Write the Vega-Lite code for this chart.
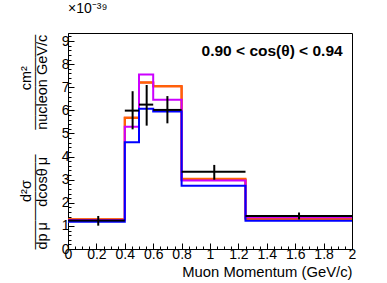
{
  "$schema": "https://vega.github.io/schema/vega-lite/v6.json",
  "width": 284,
  "height": 216,
  "autosize": {"type": "none"},
  "padding": {"left": 68, "top": 33, "right": 35, "bottom": 34},
  "background": "white",
  "config": {
    "view": {"stroke": "black", "strokeWidth": 1},
    "font": "Liberation Sans",
    "axis": {"grid": false, "domainColor": "black", "tickColor": "black", "labelColor": "black", "titleColor": "black", "labelFont": "Liberation Sans", "labelFontSize": 14, "labelOverlap": false, "labelFlush": false, "tickWidth": 1, "domainWidth": 1}
  },
  "title": {"text": "×10⁻³⁹", "anchor": "start", "orient": "top", "frame": "group", "offset": 2, "baseline": "alphabetic", "fontSize": 14, "fontWeight": "normal", "font": "Liberation Sans", "color": "black"},
  "resolve": {"axis": {"x": "independent", "y": "independent"}},
  "datasets": {
    "models": [
      {"series": "Model 1", "lo": 0, "hi": 0.4, "v": 1.28},
      {"series": "Model 1", "lo": 0.4, "hi": 0.5, "v": 5.68},
      {"series": "Model 1", "lo": 0.5, "hi": 0.6, "v": 7.21},
      {"series": "Model 1", "lo": 0.6, "hi": 0.8, "v": 7.04},
      {"series": "Model 1", "lo": 0.8, "hi": 1.25, "v": 3.0},
      {"series": "Model 1", "lo": 1.25, "hi": 2.0, "v": 1.33},
      {"series": "Model 2", "lo": 0, "hi": 0.4, "v": 1.29},
      {"series": "Model 2", "lo": 0.4, "hi": 0.5, "v": 5.68},
      {"series": "Model 2", "lo": 0.5, "hi": 0.6, "v": 7.21},
      {"series": "Model 2", "lo": 0.6, "hi": 0.8, "v": 7.04},
      {"series": "Model 2", "lo": 0.8, "hi": 1.25, "v": 3.04},
      {"series": "Model 2", "lo": 1.25, "hi": 2.0, "v": 1.29},
      {"series": "Model 3", "lo": 0, "hi": 0.4, "v": 1.26},
      {"series": "Model 3", "lo": 0.4, "hi": 0.5, "v": 5.29},
      {"series": "Model 3", "lo": 0.5, "hi": 0.6, "v": 7.55},
      {"series": "Model 3", "lo": 0.6, "hi": 0.8, "v": 6.46},
      {"series": "Model 3", "lo": 0.8, "hi": 1.25, "v": 2.96},
      {"series": "Model 3", "lo": 1.25, "hi": 2.0, "v": 1.37},
      {"series": "Model 4", "lo": 0, "hi": 0.4, "v": 1.18},
      {"series": "Model 4", "lo": 0.4, "hi": 0.5, "v": 4.62},
      {"series": "Model 4", "lo": 0.5, "hi": 0.6, "v": 6.07},
      {"series": "Model 4", "lo": 0.6, "hi": 0.8, "v": 5.95},
      {"series": "Model 4", "lo": 0.8, "hi": 1.25, "v": 2.74},
      {"series": "Model 4", "lo": 1.25, "hi": 2.0, "v": 1.22}
    ],
    "measured": [
      {"lo": 0, "hi": 0.4, "xc": 0.213, "v": 1.23, "ylow": 1.01, "yhigh": 1.43},
      {"lo": 0.4, "hi": 0.5, "xc": 0.455, "v": 5.99, "ylow": 5.18, "yhigh": 6.83},
      {"lo": 0.5, "hi": 0.6, "xc": 0.554, "v": 6.25, "ylow": 5.34, "yhigh": 7.1},
      {"lo": 0.6, "hi": 0.8, "xc": 0.7, "v": 6.02, "ylow": 5.44, "yhigh": 6.62},
      {"lo": 0.8, "hi": 1.25, "xc": 1.03, "v": 3.34, "ylow": 3.0, "yhigh": 3.64},
      {"lo": 1.25, "hi": 2.0, "xc": 1.627, "v": 1.43, "ylow": 1.28, "yhigh": 1.58}
    ]
  },
  "layer": [
    {
      "data": {"name": "models"},
      "transform": [{"fold": ["lo", "hi"], "as": ["edge", "px"]}],
      "mark": {"type": "line", "strokeWidth": 2, "interpolate": "linear", "clip": false},
      "encoding": {
        "x": {"field": "px", "type": "quantitative", "scale": {"domain": [0, 2], "nice": false, "zero": false},
          "axis": {
            "values": [0,0.05,0.1,0.15,0.2,0.25,0.3,0.35,0.4,0.45,0.5,0.55,0.6,0.65,0.7,0.75,0.8,0.85,0.9,0.95,1,1.05,1.1,1.15,1.2,1.25,1.3,1.35,1.4,1.45,1.5,1.55,1.6,1.65,1.7,1.75,1.8,1.85,1.9,1.95,2],
            "labelExpr": "abs(datum.value*5 - round(datum.value*5)) < 0.001 ? format(datum.value, '~g') : ''",
            "tickSize": {"condition": {"test": "abs(datum.value*5 - round(datum.value*5)) < 0.001", "value": -6}, "value": -3},
            "labelPadding": 4,
            "title": "Muon Momentum (GeV/c)",
            "titleFont": "Liberation Sans", "titleFontSize": 14.8, "titleFontWeight": "normal",
            "titleAnchor": "end", "titleAlign": "right", "titleBaseline": "alphabetic",
            "titleX": 284, "titleY": 27
          }
        },
        "y": {"field": "v", "type": "quantitative", "scale": {"domain": [0, 9.35], "nice": false, "zero": false},
          "axis": {
            "values": [0,0.2,0.4,0.6,0.8,1,1.2,1.4,1.6,1.8,2,2.2,2.4,2.6,2.8,3,3.2,3.4,3.6,3.8,4,4.2,4.4,4.6,4.8,5,5.2,5.4,5.6,5.8,6,6.2,6.4,6.6,6.8,7,7.2,7.4,7.6,7.8,8,8.2,8.4,8.6,8.8,9,9.2],
            "labelExpr": "abs(datum.value - round(datum.value)) < 0.001 ? format(datum.value, 'd') : ''",
            "tickSize": {"condition": {"test": "abs(datum.value - round(datum.value)) < 0.001", "value": -6}, "value": -3},
            "labelPadding": 5,
            "title": ["\u200b\u2003\u2003\u2003\u00a0d\u00b2\u03c3\u2003\u2003\u2003\u2003\u2003\u2003\u2009cm\u00b2", "\u2014\u2014\u2014\u2014\u2014\u2014\u2013\u2003\u2002\u2009\u2014\u2014\u2014\u2014\u2014\u2014\u2013", "dp\u2009\u03bc\u2002\u00a0\u00a0dcos\u03b8\u2009\u03bc\u2003\u2002\u00a0\u200anucleon GeV/c"],
            "titleFont": "Liberation Sans", "titleFontSize": 14.5, "titleFontWeight": "normal",
            "titleAngle": 270, "titleAlign": "left", "titleBaseline": "alphabetic",
            "titleLineHeight": 8.3, "titleX": -38, "titleY": 216
          }
        },
        "color": {"field": "series", "type": "nominal", "scale": {"domain": ["Model 1", "Model 2", "Model 3", "Model 4"], "range": ["#ff0000", "#ff6600", "#cc00ff", "#0000ff"]}, "legend": null},
        "order": [{"field": "px", "type": "quantitative"}, {"field": "edge", "type": "nominal"}]
      }
    },
    {
      "data": {"name": "measured"},
      "mark": {"type": "rule", "strokeWidth": 2, "color": "black"},
      "encoding": {
        "x": {"field": "lo", "type": "quantitative", "scale": {"domain": [0, 2], "nice": false, "zero": false}, "axis": null},
        "x2": {"field": "hi"},
        "y": {"field": "v", "type": "quantitative", "scale": {"domain": [0, 9.35], "nice": false, "zero": false}, "axis": null}
      }
    },
    {
      "data": {"name": "measured"},
      "mark": {"type": "rule", "strokeWidth": 2, "color": "black"},
      "encoding": {
        "x": {"field": "xc", "type": "quantitative", "scale": {"domain": [0, 2], "nice": false, "zero": false}, "axis": null},
        "y": {"field": "ylow", "type": "quantitative", "scale": {"domain": [0, 9.35], "nice": false, "zero": false}, "axis": null},
        "y2": {"field": "yhigh"}
      }
    },
    {
      "data": {"values": [{"label": "0.90 < cos(θ) < 0.94"}]},
      "mark": {"type": "text", "align": "right", "baseline": "alphabetic", "font": "Liberation Sans", "fontSize": 15.5, "fontWeight": "bold", "color": "black"},
      "encoding": {
        "text": {"field": "label"},
        "x": {"datum": 1.934, "type": "quantitative", "scale": {"domain": [0, 2], "nice": false, "zero": false}, "axis": null},
        "y": {"datum": 8.35, "type": "quantitative", "scale": {"domain": [0, 9.35], "nice": false, "zero": false}, "axis": null}
      }
    }
  ]
}
